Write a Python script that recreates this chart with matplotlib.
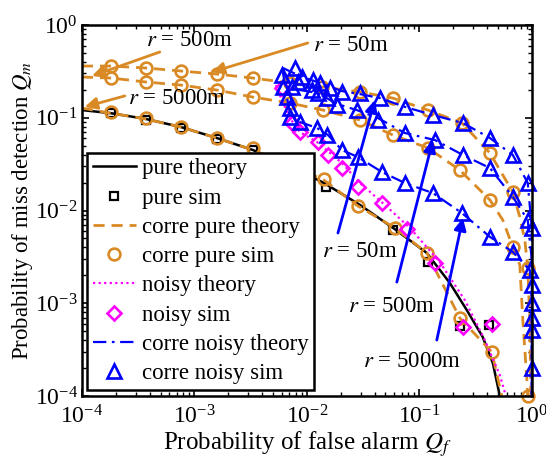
import numpy as np
import matplotlib.pyplot as plt

plt.rcParams['font.family'] = ['Liberation Serif', 'DejaVu Serif']
plt.rcParams['mathtext.fontset'] = 'stix'
plt.rcParams['font.size'] = 16

# pure (no correlation, no noise)
pure_qf = [1e-4, 1.81e-4, 3.71e-4, 7.59e-4, 1.58e-3, 3.31e-3, 7.06e-3, 0.0142, 0.0296, 0.0605,
           0.1167, 0.187, 0.264, 0.366, 0.45, 0.52]
pure_qm = [0.121, 0.112, 0.097, 0.0794, 0.0605, 0.0449, 0.0302, 0.0198, 0.0115, 0.0063,
           0.00348, 0.00165, 0.000845, 0.000433, 0.000227, 1e-4]
pure_sim_qf = [1.81e-4, 3.71e-4, 7.59e-4, 1.58e-3, 3.31e-3, 0.0148, 0.058, 0.119, 0.229, 0.415]
pure_sim_qm = [0.112, 0.0946, 0.0776, 0.059, 0.0449, 0.0179, 0.0062, 0.00278, 0.000569, 0.000583]

# correlated pure, r = 50m / 500m / 5000m
corre_qf_50 = [1e-4, 1.81e-4, 3.71e-4, 7.59e-4, 1.58e-3, 3.31e-3, 7.06e-3, 0.0136, 0.0296, 0.058,
               0.119, 0.239, 0.424, 0.678, 0.782, 0.867, 0.92, 0.96, 0.98]
corre_qm_50 = [0.361, 0.361, 0.344, 0.319, 0.296, 0.268, 0.237, 0.215, 0.19, 0.163,
               0.121, 0.0878, 0.0417, 0.0158, 0.0085, 0.00481, 0.0024, 0.000659, 1e-4]
corre_sim_qf_50 = [1.81e-4, 3.71e-4, 7.59e-4, 1.58e-3, 3.31e-3, 7.06e-3, 0.0136, 0.0296, 0.058,
                   0.119, 0.239, 0.424, 0.678, 0.92, 0.92]
corre_sim_qm_50 = [0.361, 0.344, 0.319, 0.296, 0.268, 0.237, 0.215, 0.19, 0.163,
                   0.121, 0.0878, 0.0417, 0.0158, 0.0024, 1e-4]

corre_qf_500 = [1e-4, 1.81e-4, 3.71e-4, 7.59e-4, 1.58e-3, 3.31e-3, 7.06e-3, 0.0139, 0.0296, 0.058,
                0.119, 0.229, 0.424, 0.552, 0.678, 0.782, 0.832, 0.904, 0.92]
corre_qm_500 = [0.275, 0.268, 0.243, 0.225, 0.199, 0.167, 0.144, 0.121, 0.0946, 0.0652,
                0.0472, 0.0273, 0.013, 0.0079, 0.00404, 0.00259, 0.000659, 0.000149, 1e-4]
corre_sim_qf_500 = [1.81e-4, 3.71e-4, 7.59e-4, 1.58e-3, 3.31e-3, 7.06e-3, 0.0139, 0.0296, 0.058,
                    0.119, 0.229, 0.424, 0.678]
corre_sim_qm_500 = [0.268, 0.243, 0.225, 0.199, 0.167, 0.144, 0.121, 0.0946, 0.0652,
                    0.0472, 0.0273, 0.013, 0.00404]

corre_qf_5000 = [1e-4, 1.81e-4, 3.71e-4, 7.59e-4, 1.58e-3, 3.31e-3, 7.06e-3, 0.0142, 0.0284, 0.0605,
                 0.1167, 0.229, 0.441, 0.541]
corre_qm_5000 = [0.127, 0.112, 0.097, 0.0794, 0.0605, 0.0449, 0.031, 0.0213, 0.0112, 0.0065,
                 0.00348, 0.000693, 0.000298, 1e-4]
corre_sim_qf_5000 = [1.81e-4, 3.71e-4, 7.59e-4, 1.58e-3, 3.31e-3, 0.0142, 0.0284, 0.0605, 0.1167, 0.229, 0.441]
corre_sim_qm_5000 = [0.115, 0.0994, 0.0794, 0.0605, 0.0472, 0.0219, 0.0112, 0.0065, 0.00348, 0.000693, 0.000298]

# noisy
noisy_qf = [5.3e-3, 6.0e-3, 7.06e-3, 8.67e-3, 0.0123, 0.0205, 0.0296, 0.0493, 0.0824, 0.152,
            0.254, 0.382, 0.52, 0.588]
noisy_qm = [0.225, 0.155, 0.0994, 0.0702, 0.0548, 0.0325, 0.0198, 0.0115, 0.0065, 0.00278,
            0.00108, 0.000401, 0.000168, 1e-4]
noisy_sim_qf = [6.0e-3, 7.36e-3, 8.67e-3, 0.0125, 0.0154, 0.0205, 0.0284, 0.0465, 0.0775, 0.1375, 0.244, 0.441]
noisy_sim_qm = [0.209, 0.0878, 0.0702, 0.0548, 0.0397, 0.0287, 0.0179, 0.012, 0.0063, 0.00272, 0.000555, 0.000597]

# correlated noisy, r = 50m / 500m / 5000m
cn_qf_50 = [6.12e-3, 8.67e-3, 0.01306, 0.0205, 0.0296, 0.0446, 0.0743, 0.132, 0.244, 0.424,
            0.678, 0.92, 1.0, 1.0, 1.0]
cn_qm_50 = [0.344, 0.282, 0.237, 0.194, 0.18, 0.163, 0.131, 0.107, 0.0878, 0.0605,
            0.0397, 0.0198, 0.0065, 0.00108, 1e-4]
cn_sim_qf_50 = [6.0e-3, 7.8e-3, 9.03e-3, 0.0113, 0.01306, 0.016, 0.0205, 0.0296, 0.0446, 0.0743,
                0.132, 0.244, 0.424, 0.678, 0.92, 1.0]
cn_sim_qm_50 = [0.289, 0.344, 0.275, 0.255, 0.237, 0.209, 0.19, 0.185, 0.163, 0.131,
                0.107, 0.0878, 0.0605, 0.0397, 0.0198, 0.0065]

cn_qf_500 = [6.12e-3, 7.06e-3, 8.67e-3, 0.0125, 0.0185, 0.0278, 0.0428, 0.0743, 0.1375, 0.244,
             0.424, 0.678, 0.92, 1.0, 1.0]
cn_qm_500 = [0.327, 0.225, 0.199, 0.185, 0.141, 0.121, 0.0994, 0.0685, 0.0575, 0.0397,
             0.0287, 0.014, 0.0079, 0.00293, 1e-4]
cn_sim_qf_500 = [6.12e-3, 7.36e-3, 8.3e-3, 0.01107, 0.0125, 0.01507, 0.0185, 0.0278, 0.0428, 0.0743,
                 0.1375, 0.244, 0.424, 0.678, 0.92]
cn_sim_qm_500 = [0.215, 0.215, 0.243, 0.199, 0.185, 0.163, 0.137, 0.121, 0.0946, 0.0685,
                 0.0575, 0.0397, 0.0287, 0.014, 0.0079]

cn_qf_5000 = [6.12e-3, 6.64e-3, 7.06e-3, 8.67e-3, 0.0123, 0.0154, 0.0205, 0.0284, 0.0465, 0.0743,
              0.132, 0.239, 0.424, 0.678, 0.96, 1.0, 1.0]
cn_qm_5000 = [0.311, 0.167, 0.115, 0.09, 0.0776, 0.0652, 0.0449, 0.0377, 0.026, 0.0198,
              0.0154, 0.0094, 0.0052, 0.00357, 0.00228, 0.00108, 1e-4]
cn_sim_qf_5000 = [6.64e-3, 7.06e-3, 7.06e-3, 8.67e-3, 0.0123, 0.01507, 0.0205, 0.0284, 0.0465, 0.0743,
                  0.132, 0.239, 0.424, 0.678, 0.96, 1.0, 1.0, 1.0, 1.0, 1.0]
cn_sim_qm_5000 = [0.167, 0.127, 0.102, 0.09, 0.0776, 0.0652, 0.0449, 0.0377, 0.026, 0.0198,
                  0.0154, 0.0094, 0.0052, 0.00357, 0.00228, 0.00157, 0.00101, 0.000693, 0.000515, 0.0002]

orange = '#D98A25'
blue = '#0000FF'
magenta = '#FF00FF'

fig = plt.figure(figsize=(5.46, 4.63), dpi=100)
ax = fig.add_axes([0.150, 0.1447, 0.824, 0.8013])
ax.set_xscale('log')
ax.set_yscale('log')

mk = dict(linestyle='none', markerfacecolor='none', clip_on=False)

ax.plot(pure_qf, pure_qm, color='k', lw=1.8, label='pure theory')
ax.plot(pure_sim_qf, pure_sim_qm, marker='s', color='k', ms=6, mew=1.6, label='pure sim', **mk)

for i, (qf, qm) in enumerate([(corre_qf_50, corre_qm_50), (corre_qf_500, corre_qm_500),
                              (corre_qf_5000, corre_qm_5000)]):
    ax.plot(qf, qm, color=orange, lw=2, dashes=(4, 2.5),
            label='corre pure theory' if i == 0 else None)
for i, (qf, qm) in enumerate([(corre_sim_qf_50, corre_sim_qm_50), (corre_sim_qf_500, corre_sim_qm_500),
                              (corre_sim_qf_5000, corre_sim_qm_5000)]):
    ax.plot(qf, qm, marker='o', color=orange, ms=8.5, mew=1.9,
            label='corre pure sim' if i == 0 else None, **mk)

ax.plot(noisy_qf, noisy_qm, color=magenta, lw=1.6, linestyle=(0, (1, 1.5)), label='noisy theory')
ax.plot(noisy_sim_qf, noisy_sim_qm, marker='D', color=magenta, ms=7.5, mew=1.9, label='noisy sim', **mk)

for i, (qf, qm) in enumerate([(cn_qf_50, cn_qm_50), (cn_qf_500, cn_qm_500), (cn_qf_5000, cn_qm_5000)]):
    ax.plot(qf, qm, color=blue, lw=1.6, dashes=(6, 2.5, 1.2, 2.5),
            label='corre noisy theory' if i == 0 else None)
for i, (qf, qm) in enumerate([(cn_sim_qf_50, cn_sim_qm_50), (cn_sim_qf_500, cn_sim_qm_500),
                              (cn_sim_qf_5000, cn_sim_qm_5000)]):
    ax.plot(qf, qm, marker='^', color=blue, ms=10, mew=1.9,
            label='corre noisy sim' if i == 0 else None, **mk)

ax.set_xlim(1e-4, 1)
ax.set_ylim(1e-4, 1)

# orange arrows: correlated pure curves
oarrow = dict(arrowstyle='-|>', color=orange, lw=2, mutation_scale=18, shrinkA=0, shrinkB=0)
ax.annotate('', xy=(1.23e-4, 0.282), xytext=(4.93e-4, 0.512), arrowprops=oarrow)
ax.text(9.1e-4, 0.689, r'$r$ = 500m', ha='center', va='center', fontsize=16.5)
ax.annotate('', xy=(1.43e-3, 0.311), xytext=(0.0102, 0.64), arrowprops=oarrow)
ax.text(0.0113, 0.608, r'$r$ = 50m', ha='left', va='center', fontsize=16.5)
ax.annotate('', xy=(1.06e-4, 0.131), xytext=(2.41e-4, 0.172), arrowprops=oarrow)
ax.text(2.56e-4, 0.163, r'$r$ = 5000m', ha='left', va='center', fontsize=16.5)

# blue arrows: correlated noisy curves
barrow = dict(arrowstyle='-|>', color=blue, lw=2, mutation_scale=18, shrinkA=0, shrinkB=0)
ax.annotate('', xy=(0.0402, 0.155), xytext=(0.0189, 0.00572), arrowprops=barrow)
ax.text(0.0296, 0.00357, r'$r$ = 50m', ha='center', va='center', fontsize=16.5)
ax.annotate('', xy=(0.132, 0.0575), xytext=(0.0631, 0.00169), arrowprops=barrow)
ax.text(0.057, 0.000912, r'$r$ = 500m', ha='center', va='center', fontsize=16.5)
ax.annotate('', xy=(0.244, 0.0083), xytext=(0.143, 0.000401), arrowprops=barrow)
ax.text(0.0857, 0.000233, r'$r$ = 5000m', ha='center', va='center', fontsize=16.5)

ax.set_xlabel(r'Probability of false alarm $Q_f$', fontsize=18, labelpad=0)
ax.set_ylabel(r'Probability of miss detection $Q_m$', fontsize=16.5, labelpad=0)

for s in ax.spines.values():
    s.set_linewidth(1.8)
ax.tick_params(which='both', direction='in', top=True, right=True, labelsize=17)
ax.tick_params(axis='x', which='major', pad=7)
ax.tick_params(axis='y', which='major', pad=3)
ax.tick_params(which='major', length=5, width=1.2)
ax.tick_params(which='minor', length=3, width=1)

leg = ax.legend(loc='lower left', bbox_to_anchor=(0.011, 0.016), fontsize=16.5, frameon=True,
                fancybox=False, framealpha=1, edgecolor='k', handlelength=1.9,
                handletextpad=0.25, labelspacing=0.36, borderpad=0.25, borderaxespad=0)
leg.get_frame().set_linewidth(1.8)

fig.savefig('out.png', dpi=100)
